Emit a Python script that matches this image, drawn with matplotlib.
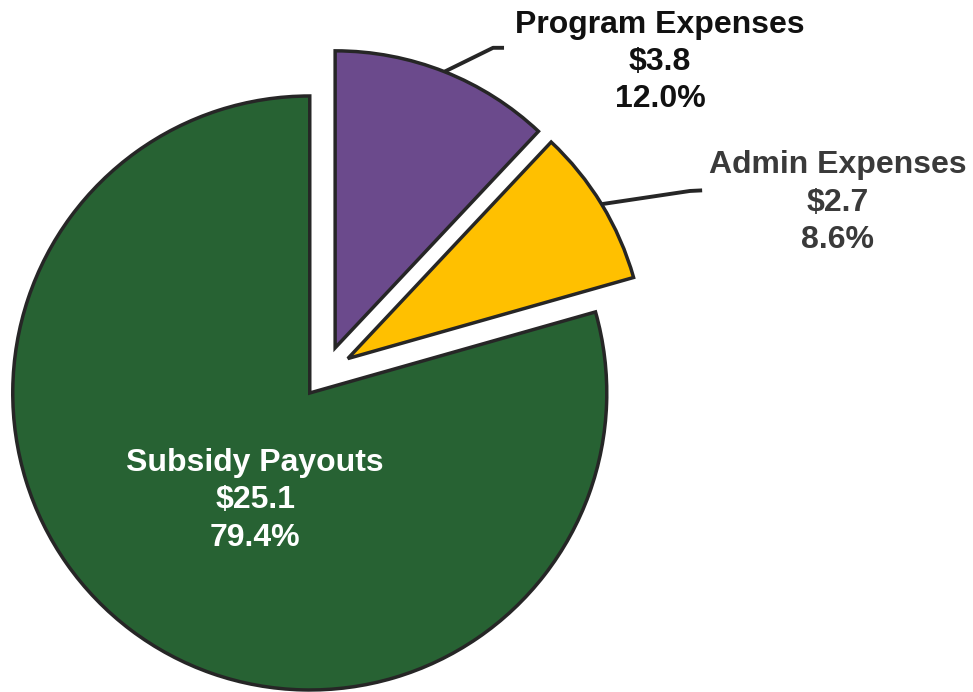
import numpy as np
import matplotlib.pyplot as plt

plt.rcParams['font.family'] = ['Liberation Sans', 'DejaVu Sans']

labels = ['Program Expenses', 'Admin Expenses', 'Subsidy Payouts']
amounts = [3.8, 2.7, 25.1]          # $ millions
shares = [12.0, 8.6, 79.4]          # percent of total
colors = ['#6B4A8C', '#FFC000', '#276233']
text_colors = ['#111111', '#3a3a3a', 'white']

fig = plt.figure(figsize=(9.73, 6.92), dpi=100)
ax = fig.add_axes([0, 0, 1, 1])

explode = [0.088] * 3
wedges, _ = ax.pie(shares, explode=explode, colors=colors, startangle=90,
                   counterclock=False, radius=1.0,
                   wedgeprops=dict(edgecolor='#262626', linewidth=2.5))

ax.set_xlim(-1.096, 2.180)
ax.set_ylim(-1.077, 1.253)
ax.set_aspect('auto')
ax.axis('off')

# label positions (data units) and leader-line elbows for the outside labels
text_pos = [(1.126, 1.044), (1.725, 0.570), (-0.237, -0.431)]
elbows = [[(0.564, 1.092), (0.601, 1.092)],
          [(1.227, 0.610), (1.268, 0.612)],
          None]

for i, w in enumerate(wedges):
    txt = f'{labels[i]}\n${amounts[i]:.1f}\n{shares[i]:.1f}%'
    ax.text(*text_pos[i], txt, ha='center', va='center', fontsize=23,
            fontweight='bold', color=text_colors[i], linespacing=1.32)
    if elbows[i] is None:
        continue
    mid = np.deg2rad((w.theta1 + w.theta2) / 2)
    cx, cy = w.center
    anchor = (cx + w.r * np.cos(mid), cy + w.r * np.sin(mid))
    pts = [anchor] + elbows[i]
    ax.plot([p[0] for p in pts], [p[1] for p in pts], color='#262626',
            linewidth=2.8, solid_capstyle='butt', zorder=0)

fig.savefig('out.png', dpi=100)
